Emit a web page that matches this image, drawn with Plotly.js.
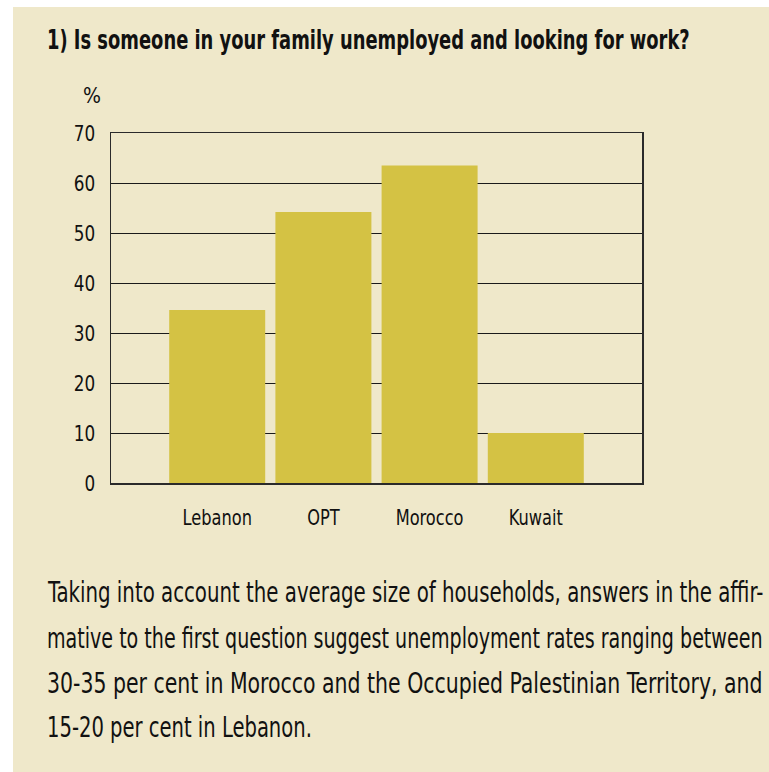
<!DOCTYPE html>
<html>
<head>
<meta charset="utf-8">
<script src="https://cdn.plot.ly/plotly-3.0.1.min.js"></script>
<style>
  html, body { margin: 0; padding: 0; background: #ffffff; width: 769px; height: 772px; overflow: hidden; }
  #chart { position: absolute; left: 13px; top: 7px; width: 756px; height: 765px; }
</style>
</head>
<body>
<div id="chart"></div>
<script>
// ---- data ----
const categories = ['Lebanon', 'OPT', 'Morocco', 'Kuwait'];
const values = [34.6, 54.2, 63.5, 10];
const yTickVals = [0, 10, 20, 30, 40, 50, 60, 70];
const titleText = '1) Is someone in your family unemployed and looking for work?';
const unitLabel = '%';
const paragraphLines = [
  'Taking into account the average size of households, answers in the affir-',
  'mative to the first question suggest unemployment rates ranging between',
  '30-35 per cent in Morocco and the Occupied Palestinian Territory, and',
  '15-20 per cent in Lebanon.'
];

// ---- styling / geometry ----
const FONT = '"DejaVu Sans Condensed", "Liberation Sans Narrow", sans-serif';
const BG = '#efe8ca';
const BAR = '#d4c244';
const W = 756, H = 765;
const M = { l: 98, r: 127, t: 126, b: 289 };
const PW = W - M.l - M.r, PH = H - M.t - M.b;
const px = x => (x - M.l) / PW;
const py = y => (H - M.b - y) / PH;

const annotations = [
  { text: titleText, xref: 'paper', yref: 'paper', x: px(32), y: py(33),
    xanchor: 'left', yanchor: 'middle', align: 'left', showarrow: false,
    font: { family: FONT, size: 27, weight: 'bold', color: '#111' } },
  { text: unitLabel, xref: 'paper', yref: 'paper', x: px(79), y: py(89),
    xanchor: 'center', yanchor: 'middle', showarrow: false,
    font: { family: FONT, size: 21, color: '#111' } }
];
const lineY = [585, 631, 676, 720];
paragraphLines.forEach((t, i) => {
  annotations.push({ text: t, xref: 'paper', yref: 'paper', x: px(32), y: py(lineY[i]),
    xanchor: 'left', yanchor: 'middle', align: 'left', showarrow: false,
    font: { family: FONT, size: 28, color: '#111' } });
});

const data = [{
  type: 'bar', x: categories, y: values,
  marker: { color: BAR, line: { width: 0 } },
  hoverinfo: 'skip'
}];

const layout = {
  width: W, height: H,
  margin: M,
  paper_bgcolor: BG, plot_bgcolor: BG,
  showlegend: false,
  bargap: 0.096,
  font: { family: FONT, color: '#111' },
  xaxis: {
    type: 'category', range: [-1, 4], fixedrange: true,
    showgrid: false, zeroline: false,
    showline: true, mirror: true, linecolor: '#2a2a2a', linewidth: 1.5,
    ticks: '', ticklabelstandoff: 14,
    tickfont: { family: FONT, size: 22, color: '#111' }
  },
  yaxis: {
    range: [0, 70], fixedrange: true,
    tickmode: 'array', tickvals: yTickVals, ticktext: yTickVals.map(String),
    showgrid: true, gridcolor: '#1a1a1a', gridwidth: 1,
    zeroline: false,
    showline: true, mirror: true, linecolor: '#2a2a2a', linewidth: 1.5,
    ticks: '', ticklabelstandoff: 10,
    tickfont: { family: FONT, size: 22, color: '#111' }
  },
  annotations: annotations
};

// condense text horizontally (about its anchor point) to mimic the narrow typeface
function condense(el, k) {
  const x0 = parseFloat(el.getAttribute('x')) || 0;
  const prev = el.getAttribute('transform') || '';
  el.setAttribute('transform',
    (prev + ' translate(' + x0 + ',0) scale(' + k + ',1) translate(' + (-x0) + ',0)').trim());
}
function condenseTo(el, width) {
  condense(el, width / el.getComputedTextLength());
}
function condenseAnnotation(gd, i, width) {
  const g = gd.querySelector('.annotation[data-index="' + i + '"]');
  if (!g) return;
  const t = g.querySelector('.annotation-text');
  const k = width / t.getComputedTextLength();
  condense(t, k);
  const r = g.querySelector('rect.bg');
  if (r) r.setAttribute('width', (parseFloat(r.getAttribute('width')) || 0) * k);
}

Plotly.newPlot('chart', data, layout, { displayModeBar: false, staticPlot: true }).then(gd => {
  condenseAnnotation(gd, 0, 643);
  const targets = [716, 716, 716, 265];
  targets.forEach((w, i) => condenseAnnotation(gd, 2 + i, w));
  gd.querySelectorAll('.xtick text').forEach(t => condense(t, 0.82));
  gd.querySelectorAll('.ytick text').forEach(t => condense(t, 0.85));
});
</script>
</body>
</html>
